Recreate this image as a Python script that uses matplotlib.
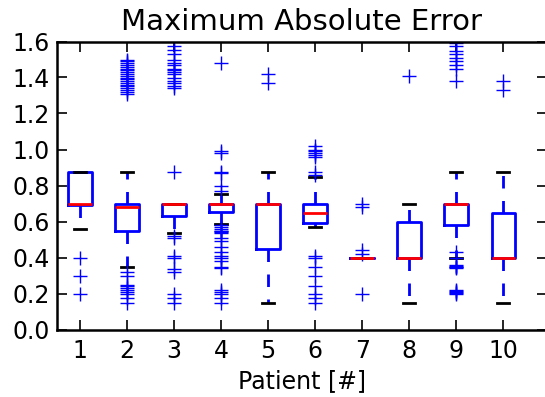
import numpy as np
import matplotlib
matplotlib.use("Agg")
import matplotlib.pyplot as plt

# box statistics, one entry per patient
patients = [1, 2, 3, 4, 5, 6, 7, 8, 9, 10]
medians = [0.70, 0.68, 0.70, 0.70, 0.70, 0.65, 0.40, 0.40, 0.70, 0.40]
q1 = [0.69, 0.545, 0.632, 0.652, 0.447, 0.592, 0.40, 0.40, 0.578, 0.40]
q3 = [0.875, 0.70, 0.70, 0.70, 0.70, 0.70, 0.40, 0.595, 0.70, 0.65]
whis_lo = [0.558, 0.345, 0.538, 0.585, 0.15, 0.572, 0.40, 0.15, 0.40, 0.15]
whis_hi = [0.875, 0.875, 0.70, 0.752, 0.875, 0.848, 0.40, 0.70, 0.875, 0.875]
fliers = [
    [0.40, 0.30, 0.20],
    [1.50, 1.49, 1.48, 1.47, 1.46, 1.45, 1.44, 1.43, 1.42, 1.41, 1.40, 1.39,
     1.38, 1.37, 1.36, 1.35, 1.34, 1.33, 1.32, 1.31,
     0.32, 0.30, 0.25, 0.24, 0.23, 0.22, 0.21, 0.20, 0.175, 0.15],
    [1.575, 1.555, 1.53, 1.50, 1.48, 1.47, 1.45, 1.44, 1.43, 1.42, 1.40, 1.38,
     1.37, 1.35, 1.34, 0.875, 0.52, 0.51, 0.41, 0.40, 0.335, 0.32, 0.20, 0.175,
     0.15],
    [1.48, 0.99, 0.98, 0.875, 0.87, 0.80, 0.77, 0.58, 0.57, 0.56, 0.55, 0.545,
     0.54, 0.535, 0.51, 0.49, 0.46, 0.43, 0.41, 0.40, 0.38, 0.345, 0.34, 0.22,
     0.21, 0.20, 0.175, 0.15],
    [1.42, 1.37],
    [1.02, 1.0, 0.99, 0.98, 0.97, 0.96, 0.875, 0.86, 0.41, 0.40, 0.345, 0.295,
     0.24, 0.20, 0.175, 0.145],
    [0.70, 0.68, 0.44, 0.42, 0.20],
    [1.41],
    [1.59, 1.575, 1.55, 1.53, 1.51, 1.49, 1.47, 1.45, 1.38, 0.43, 0.40,
     0.36, 0.355, 0.35, 0.345, 0.34, 0.22, 0.215, 0.21, 0.205, 0.20],
    [1.38, 1.33],
]

stats = []
for i in range(len(patients)):
    stats.append({"med": medians[i], "q1": q1[i], "q3": q3[i],
                  "whislo": whis_lo[i], "whishi": whis_hi[i],
                  "fliers": fliers[i], "label": str(patients[i])})

fig = plt.figure(figsize=(5.45, 3.97), dpi=100)
ax = fig.add_axes([56.5 / 545, 67.5 / 397, 490.5 / 545, 288 / 397])

ax.bxp(stats, positions=patients, widths=0.5,
       boxprops=dict(color="blue", linewidth=2),
       whiskerprops=dict(color="blue", linewidth=2, linestyle=(0, (4.5, 4.5))),
       capprops=dict(color="black", linewidth=2),
       medianprops=dict(color="red", linewidth=2),
       flierprops=dict(marker="+", markeredgecolor="blue", markersize=10,
                       markeredgewidth=1.0, linestyle="none"))

ax.set_xlim(0.5, 10.93)
ax.set_ylim(0, 1.6)
ax.set_yticks(np.arange(0, 1.61, 0.2))
ax.set_yticklabels(["%.1f" % v for v in np.arange(0, 1.61, 0.2)])
ax.set_xticks(patients)
ax.set_xticklabels([str(p) for p in patients])
ax.tick_params(direction="in", length=7, width=1.2, top=True, right=True,
               labelsize=17)
ax.tick_params(axis="x", pad=7)
ax.tick_params(axis="y", pad=5)
for s in ax.spines.values():
    s.set_linewidth(1.8)

ax.set_title("Maximum Absolute Error", fontsize=21, pad=8)
ax.set_xlabel("Patient [#]", fontsize=17, labelpad=4)

fig.savefig("out.png", dpi=100)
